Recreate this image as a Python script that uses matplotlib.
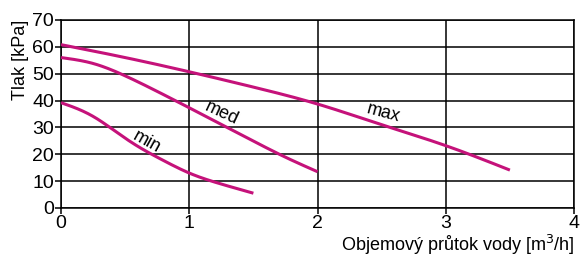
import matplotlib
matplotlib.use("Agg")
import matplotlib.pyplot as plt
import numpy as np

plt.rcParams['font.family'] = ['Liberation Sans', 'DejaVu Sans']

x_max = [0, 0.5, 1.0, 1.5, 2.0, 2.5, 3.0, 3.5]
y_max = [60.8, 56, 50.7, 45, 38.7, 31, 23.2, 14.1]
x_med = [0, 0.25, 0.5, 0.75, 1.0, 1.25, 1.5, 1.75, 2.0]
y_med = [56, 53.8, 49.2, 43.4, 37.3, 31.1, 24.9, 18.9, 13.5]
x_min = [0, 0.125, 0.25, 0.375, 0.5, 0.625, 0.75, 0.875, 1.0, 1.25, 1.5]
y_min = [39.2, 37.0, 34.1, 30.2, 26.0, 22.2, 18.9, 15.8, 13.0, 8.9, 5.5]

labels = ["min", "med", "max"]
label_x = [0.67, 1.255, 2.51]
label_y = [24.6, 35.2, 35.4]
label_rot = [-29, -25, -15]

xticks = [0, 1, 2, 3, 4]
yticks = [0, 10, 20, 30, 40, 50, 60, 70]

color = '#C5127A'

fig = plt.figure(figsize=(5.81, 2.59), dpi=100)
ax = fig.add_axes([0.105, 0.197, 0.883, 0.726])


def spline(xs, ys, num=300):
    """Natural cubic spline through the read points."""
    xs = np.asarray(xs, float); ys = np.asarray(ys, float)
    n = len(xs)
    h = np.diff(xs)
    A = np.zeros((n, n)); b = np.zeros(n)
    A[0, 0] = A[-1, -1] = 1
    for i in range(1, n - 1):
        A[i, i-1] = h[i-1]; A[i, i] = 2 * (h[i-1] + h[i]); A[i, i+1] = h[i]
        b[i] = 3 * ((ys[i+1] - ys[i]) / h[i] - (ys[i] - ys[i-1]) / h[i-1])
    c = np.linalg.solve(A, b)
    t = np.linspace(xs[0], xs[-1], num)
    out = np.empty_like(t)
    for j, tv in enumerate(t):
        i = min(np.searchsorted(xs, tv, side='right') - 1, n - 2)
        dx = tv - xs[i]
        bi = (ys[i+1] - ys[i]) / h[i] - h[i] * (2 * c[i] + c[i+1]) / 3
        di = (c[i+1] - c[i]) / (3 * h[i])
        out[j] = ys[i] + bi * dx + c[i] * dx**2 + di * dx**3
    return t, out


for xs, ys in [(x_max, y_max), (x_med, y_med), (x_min, y_min)]:
    t, yy = spline(xs, ys)
    ax.plot(t, yy, color=color, lw=2.2, zorder=3, solid_capstyle='butt')

for lab, lx, ly, r in zip(labels, label_x, label_y, label_rot):
    ax.text(lx, ly, lab, rotation=r, ha='center', va='center', fontsize=13,
            rotation_mode='anchor', zorder=4)

ax.set_xlim(0, 4)
ax.set_ylim(0, 70)
ax.set_xticks(xticks)
ax.set_yticks(yticks)
ax.grid(True, color='black', lw=1.1)
for s in ax.spines.values():
    s.set_color('black'); s.set_linewidth(1.1)
ax.tick_params(direction='out', length=4, width=1.1, labelsize=14, pad=1)
ax.set_ylabel('Tlak [kPa]', fontsize=13, loc='top')
ax.yaxis.set_label_coords(-0.062, 1.0)
ax.set_xlabel('Objemový průtok vody [m$^3$/h]', fontsize=13, ha='right')
ax.xaxis.set_label_coords(1.0, -0.13)

fig.savefig('out.png', dpi=100)
